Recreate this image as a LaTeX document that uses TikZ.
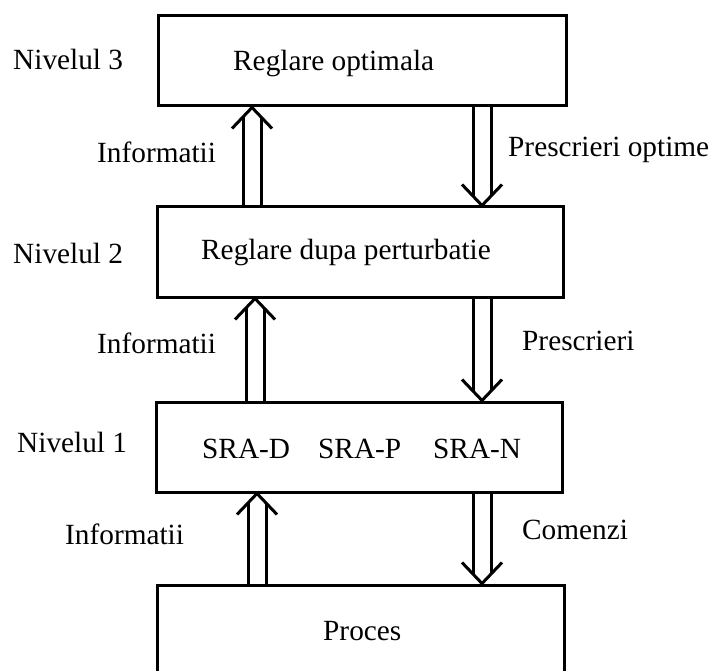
\documentclass[tikz,border=0pt]{standalone}
\usepackage{fontspec}
\setmainfont{Liberation Serif}
\usetikzlibrary{calc}
\newcommand\dblup[3]{%
  \draw[arr] (#3-9,0 |- #1.north) -- ($(#3-9,0 |- #2.south)+(0,9.5)$);
  \draw[arr] (#3+9,0 |- #1.north) -- ($(#3+9,0 |- #2.south)+(0,9.5)$);
  \draw[arr] ($(#3,0 |- #2.south)+(-20,21)$) -- (#3,0 |- #2.south) -- ($(#3,0 |- #2.south)+(20,21)$);
}
\newcommand\dbldown[3]{%
  \draw[arr] (#3-9,0 |- #1.south) -- ($(#3-9,0 |- #2.north)+(0,-9.5)$);
  \draw[arr] (#3+9,0 |- #1.south) -- ($(#3+9,0 |- #2.north)+(0,-9.5)$);
  \draw[arr] ($(#3,0 |- #2.north)+(-20,-21)$) -- (#3,0 |- #2.north) -- ($(#3,0 |- #2.north)+(20,-21)$);
}
\begin{document}
\begin{tikzpicture}[x=1pt,y=-1pt,
  box/.style={draw,line width=3pt,rectangle,inner sep=0pt},
  arr/.style={line width=3pt,line join=round},
  lbl/.style={anchor=base west,inner sep=0pt,font=\fontsize{29.3}{34}\selectfont}]
\useasboundingbox (0,0) rectangle (715,671);
\clip (0,0) rectangle (715,671);
\fill[white] (0,0) rectangle (715,671);
\node[box,minimum width=408pt,minimum height=90pt] (b1) at (362,61) {};
\node[box,minimum width=406pt,minimum height=90pt] (b2) at (360,252) {};
\node[box,minimum width=406pt,minimum height=90pt] (b3) at (359,447) {};
\node[box,minimum width=407pt,minimum height=130pt] (b4) at (360.5,650) {};
\node[lbl] (n3) at (13,70) {Nivelul 3};
\node[lbl] (t1) at (233,71) {Reglare optimala};
\node[lbl] (i1) at (97,163) {Informatii};
\node[lbl] (p1) at (508,157) {Prescrieri optime};
\node[lbl] (n2) at (13,263) {Nivelul 2};
\node[lbl] (t2) at (201,260) {Reglare dupa perturbatie};
\node[lbl] (i2) at (97,353) {Informatii};
\node[lbl] (p2) at (522,350) {Prescrieri};
\node[lbl] (n1) at (17,452) {Nivelul 1};
\node[lbl] (s1) at (202,458) {SRA-D};
\node[lbl] (s2) at (318,458) {SRA-P};
\node[lbl] (s3) at (433,458) {SRA-N};
\node[lbl] (i3) at (65,544) {Informatii};
\node[lbl] (c1) at (522,539) {Comenzi};
\node[lbl] (t4) at (323,640) {Proces};
\dblup{b2}{b1}{252}
\dblup{b3}{b2}{255}
\dblup{b4}{b3}{257}
\dbldown{b1}{b2}{482}
\dbldown{b2}{b3}{482}
\dbldown{b3}{b4}{482}
\end{tikzpicture}
\end{document}
